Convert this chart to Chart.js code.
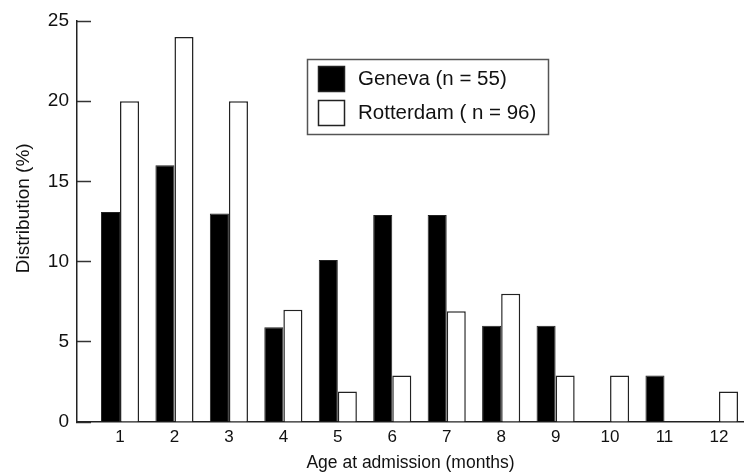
<!DOCTYPE html>
<html>
<head>
<meta charset="utf-8">
<script src="https://cdn.jsdelivr.net/npm/chart.js@4/dist/chart.umd.min.js"></script>
<style>
  html, body { margin:0; padding:0; background:#fff; }
  #wrap { width:744px; height:474px; }
</style>
</head>
<body>
<div id="wrap"><canvas id="chart" width="744" height="474"></canvas></div>
<script>
// age in months
const months = [1,2,3,4,5,6,7,8,9,10,11,12];
// percentages (null = no bar)
const geneva    = [13.1, 16, 13, 5.9, 10.1, 12.9, 12.9, 6, 6, null, 2.9, null];
const rotterdam = [20, 24, 20, 7, 1.9, 2.9, 6.9, 8, 2.9, 2.9, null, 1.9];
const seriesNames = ['Geneva (n = 55)', 'Rotterdam ( n = 96)'];
const yTicks = [0,5,10,15,20,25];

const FONT = '"Liberation Sans", Arial, Helvetica, sans-serif';

// legend box drawn inside the plot, top right of the tall bars
const boxLegend = {
  id:'boxLegend',
  afterDraw(chart){
    const c = chart.ctx;
    c.save();
    c.strokeStyle = '#555';
    c.lineWidth = 1.5;
    c.strokeRect(307.5, 59.5, 241, 75);
    chart.data.datasets.forEach((ds,i)=>{
      const y = 66 + i*34;
      c.fillStyle = ds.backgroundColor;
      c.fillRect(318, y, 27, 26);
      c.strokeStyle = '#222';
      c.lineWidth = 1.5;
      c.strokeRect(318.5, y+0.5, 26, 25);
      c.fillStyle = '#111';
      c.font = '20.5px ' + FONT;
      c.textBaseline = 'middle';
      c.textAlign = 'left';
      c.fillText(ds.label, 358, y+13);
    });
    c.restore();
  }
};

const toXY = arr => arr.map((v,i)=>({x:months[i], y:v}));

new Chart(document.getElementById('chart'), {
  type:'bar',
  data:{
    datasets:[
      { label:seriesNames[0], data:toXY(geneva), backgroundColor:'#000', borderColor:'#222', borderWidth:1,
        categoryPercentage:0.7, barPercentage:1 },
      { label:seriesNames[1], data:toXY(rotterdam), backgroundColor:'#fff', borderColor:'#222', borderWidth:1.5,
        categoryPercentage:0.7, barPercentage:1 }
    ]
  },
  options:{
    responsive:false,
    animation:false,
    layout:{ padding:{ top:21, right:0, bottom:0, left:0 } },
    plugins:{ legend:{display:false}, tooltip:{enabled:false} },
    scales:{
      x:{
        type:'linear',
        offset:false,
        min:0.21, max:12.46,
        afterBuildTicks: s => { s.ticks = months.map(v=>({value:v})); },
        afterFit: s => { s.height = 52; s.paddingLeft = 0; s.paddingRight = 0; },
        grid:{ drawOnChartArea:false, drawTicks:false },
        border:{ color:'#222', width:1.5 },
        ticks:{ color:'#111', padding:5, font:{ family:FONT, size:17 } },
        title:{ display:true, text:'Age at admission (months)', color:'#111',
                padding:{top:0,bottom:0}, font:{ family:FONT, size:17.5 } }
      },
      y:{
        min:0, max:25,
        afterBuildTicks: s => { s.ticks = yTicks.map(v=>({value:v})); },
        afterFit: s => { s.width = 77; s.paddingTop = 0; s.paddingBottom = 0; },
        grid:{ drawOnChartArea:false, drawTicks:true, tickLength:-14, tickColor:'#333', tickWidth:1.5 },
        border:{ color:'#222', width:1.5 },
        ticks:{ color:'#111', padding:22, font:{ family:FONT, size:19 } },
        title:{ display:true, text:'     Distribution (%)', color:'#111',
                padding:{top:12,bottom:0}, font:{ family:FONT, size:19 } }
      }
    }
  },
  plugins:[boxLegend]
});
</script>
</body>
</html>
